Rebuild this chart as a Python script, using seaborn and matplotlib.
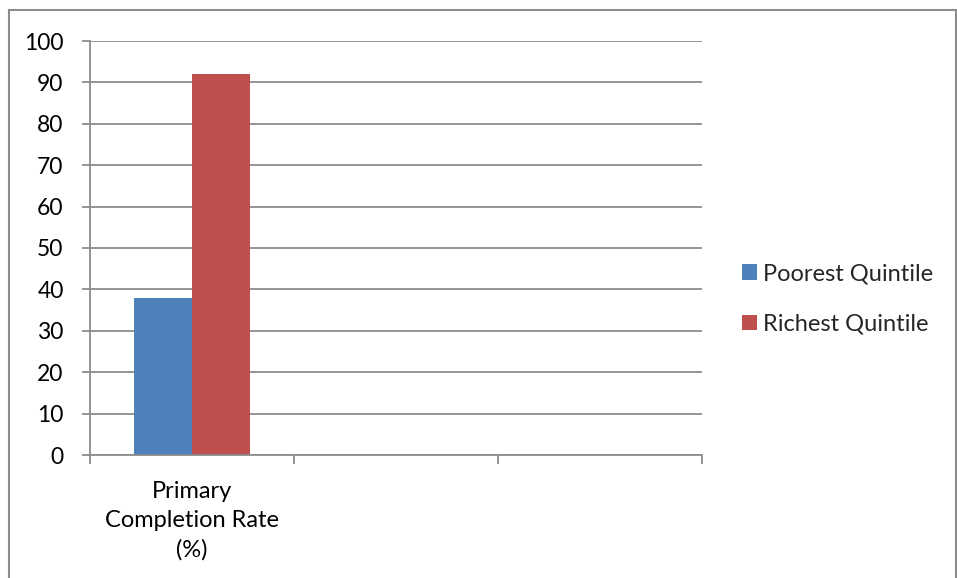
import matplotlib
matplotlib.use("Agg")
import matplotlib.pyplot as plt
from matplotlib.patches import Rectangle, Patch
import seaborn as sns
import pandas as pd

# Data
categories = ["Primary\nCompletion Rate\n(%)"]
series = ["Poorest Quintile", "Richest Quintile"]
values = [38, 92]
colors = ["#4F81BD", "#C0504D"]
y_ticks = [0, 10, 20, 30, 40, 50, 60, 70, 80, 90, 100]

df = pd.DataFrame({
    "category": [categories[0]] * len(series),
    "series": series,
    "value": values,
})

# Two further category slots stay empty on the axis
slot_order = categories + [" ", "  "]

sns.set_theme(style="white")
plt.rcParams["font.family"] = ["Lato", "DejaVu Sans"]

fig = plt.figure(figsize=(9.57, 5.78), dpi=100)
ax = fig.add_axes([90 / 957, 123 / 578, 612 / 957, 414 / 578])

sns.barplot(data=df, x="category", y="value", hue="series", order=slot_order,
            hue_order=series, palette=colors, width=0.573, saturation=1,
            linewidth=0, ax=ax, legend=False)

grid_c = "#8C8C8C"
ax.set_ylim(0, 100)
ax.set_xlim(-0.5, len(slot_order) - 0.5)
ax.set_yticks(y_ticks)
ax.set_yticklabels([str(t) for t in y_ticks], fontsize=16.5, color="black")
ax.yaxis.grid(True, color=grid_c, linewidth=1.3)
ax.set_axisbelow(True)

# Major x ticks at slot boundaries, category labels on minor ticks
ax.set_xticks([i - 0.5 for i in range(len(slot_order) + 1)])
ax.set_xticklabels([])
ax.set_xticks([0], labels=[categories[0]], minor=True)
for lbl in ax.get_xticklabels(minor=True):
    lbl.set_fontsize(17)
    lbl.set_multialignment("center")
    lbl.set_linespacing(1.45)
    lbl.set_color("black")

ax.tick_params(axis="y", which="major", left=True, length=6, width=1.3,
               color=grid_c, pad=13)
ax.tick_params(axis="x", which="major", bottom=True, length=6.5, width=1.3,
               color=grid_c)
ax.tick_params(axis="x", which="minor", bottom=True, length=0, pad=19)

ax.set_xlabel("")
ax.set_ylabel("")
for side in ["top", "right"]:
    ax.spines[side].set_visible(False)
for side in ["left", "bottom"]:
    ax.spines[side].set_color(grid_c)
    ax.spines[side].set_linewidth(1.3)

handles = [Patch(facecolor=c, edgecolor="none", label=s) for s, c in zip(series, colors)]
fig.legend(handles=handles, loc="center left", bbox_to_anchor=(742 / 957, 1 - 299 / 578),
           frameon=False, fontsize=17, handlelength=0.62, handleheight=0.62,
           handletextpad=0.25, labelspacing=1.25, borderaxespad=0, borderpad=0)

# Chart-area border
fig.patches.append(Rectangle((8.5 / 957, -0.1), 947.5 / 957, 1.1 - 10.5 / 578,
                             transform=fig.transFigure, fill=False,
                             edgecolor="#8C8C8C", linewidth=1.5))

fig.savefig("out.png", dpi=100)
